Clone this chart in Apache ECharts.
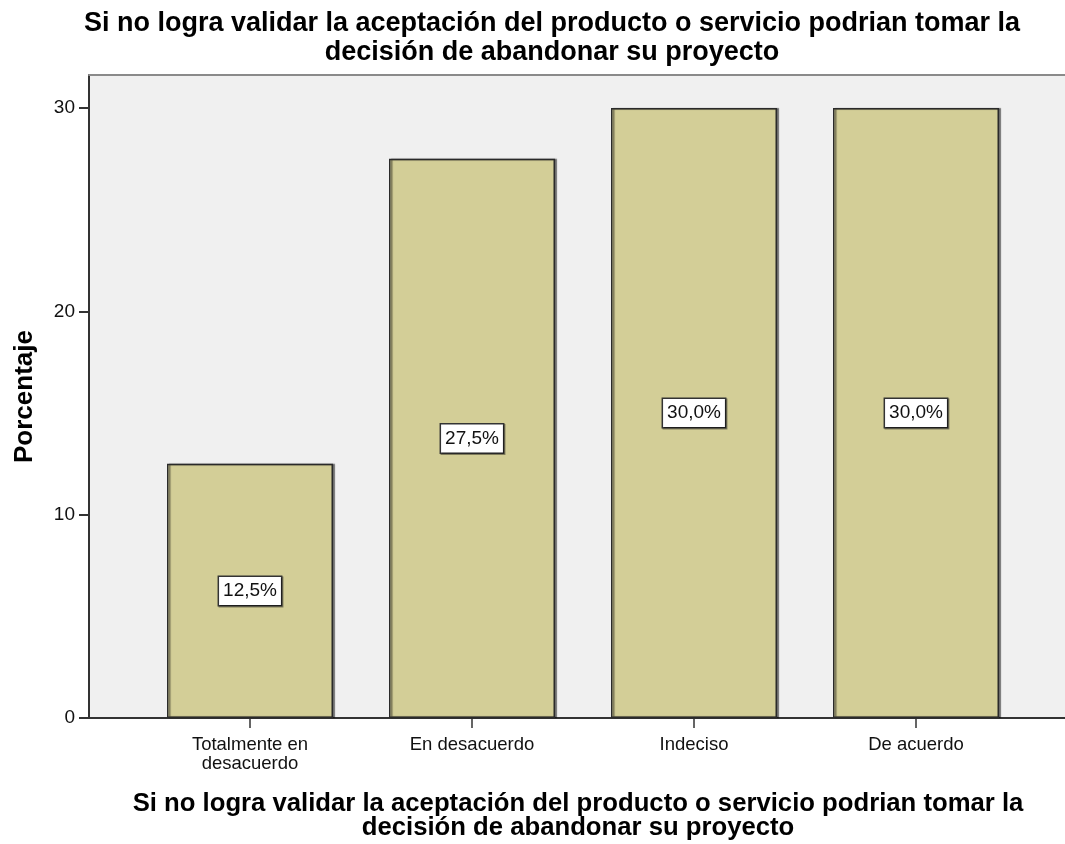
<!DOCTYPE html>
<html><head><meta charset="utf-8">
<script src="https://cdn.jsdelivr.net/npm/echarts@6/dist/echarts.min.js"></script>
<style>html,body{margin:0;padding:0;background:#fff}#c{width:1065px;height:844px}</style>
</head><body><div id="c"></div>
<script>
const titleText = "Si no logra validar la aceptación del producto o servicio podrian tomar la\ndecisión de abandonar su proyecto";
const categories = ["Totalmente en\ndesacuerdo", "En desacuerdo", "Indeciso", "De acuerdo"];
const values = [12.5, 27.5, 30.0, 30.0];
const yTicks = [0, 10, 20, 30];
const yName = "Porcentaje";
const xName = "Si no logra validar la aceptación del producto o servicio podrian tomar la\ndecisión de abandonar su proyecto";

const chart = echarts.init(document.getElementById('c'));
const YMAX = 31.62;
const font = "'Liberation Sans', Arial, sans-serif";
chart.setOption({
  animation: false,
  textStyle: {fontFamily: font},
  graphic: [{
    type: 'text', x: 552, y: 9,
    style: {text: titleText, fill: '#000', font: "bold 27px 'Liberation Sans', Arial, sans-serif",
      lineHeight: 29, textAlign: 'center', textVerticalAlign: 'top', align: 'center', verticalAlign: 'top'}
  }],
  grid: [
    {left: 89, right: -2, top: 75, bottom: 126, show: true, backgroundColor: '#f0f0f0', borderWidth: 0,
     outerBoundsMode: 'none', containLabel: false},
    {left: 139, width: 888, top: 75, bottom: 126, outerBoundsMode: 'none', containLabel: false}
  ],
  xAxis: [
    {gridIndex: 0, type: 'value', min: 0, max: 1, position: 'bottom',
     axisLine: {show: true, onZero: false, lineStyle: {color: '#333', width: 2}}, axisTick: {show: false},
     axisLabel: {show: false}, splitLine: {show: false},
     name: xName, nameLocation: 'middle', nameGap: 74,
     nameTextStyle: {fontFamily: font, fontSize: 25.7, fontWeight: 'bold', color: '#000', lineHeight: 24, padding: [0,0,0,0]}},
    {gridIndex: 0, type: 'value', min: 0, max: 1, position: 'top',
     axisLine: {show: true, onZero: false, lineStyle: {color: '#8a8a8a', width: 2}}, axisTick: {show: false},
     axisLabel: {show: false}, splitLine: {show: false}},
    {gridIndex: 1, type: 'category', data: categories,
     axisLine: {show: false, onZero: false},
     axisTick: {show: true, alignWithLabel: true, length: 10, lineStyle: {color: '#333', width: 1.5}},
     axisLabel: {color: '#111', fontSize: 18.5, margin: 17, lineHeight: 19, fontFamily: font}}
  ],
  yAxis: [
    {gridIndex: 0, type: 'value', min: 0, max: YMAX, interval: 10,
     axisLine: {show: true, lineStyle: {color: '#333', width: 2}},
     axisTick: {show: true, length: 10, customValues: yTicks, lineStyle: {color: '#333', width: 2}},
     axisLabel: {color: '#111', fontSize: 19, margin: 14, fontFamily: font, customValues: yTicks,
       formatter: v => String(v)},
     splitLine: {show: false},
     name: yName, nameLocation: 'middle', nameGap: 51, nameRotate: 90,
     nameTextStyle: {fontFamily: font, fontSize: 26, fontWeight: 'bold', color: '#000'}},
    {gridIndex: 1, type: 'value', min: 0, max: YMAX, show: false, splitLine: {show: false}}
  ],
  series: [{
    type: 'bar', xAxisIndex: 2, yAxisIndex: 1, data: values, barWidth: 166,
    itemStyle: {color: '#d3ce97', borderColor: '#2a2a2a', borderWidth: 1.5,
      shadowColor: 'rgba(0,0,0,0.45)', shadowOffsetX: 2, shadowOffsetY: 0, shadowBlur: 1},
    label: {show: true, position: 'inside', formatter: p => p.value.toFixed(1).replace('.', ',') + '%',
      color: '#111', fontSize: 19, fontFamily: font, backgroundColor: '#fff',
      borderColor: '#333', borderWidth: 1.5, padding: [5, 4, 4, 4],
      shadowColor: 'rgba(0,0,0,0.4)', shadowOffsetX: 1, shadowOffsetY: 1}
  }]
});
</script></body></html>
